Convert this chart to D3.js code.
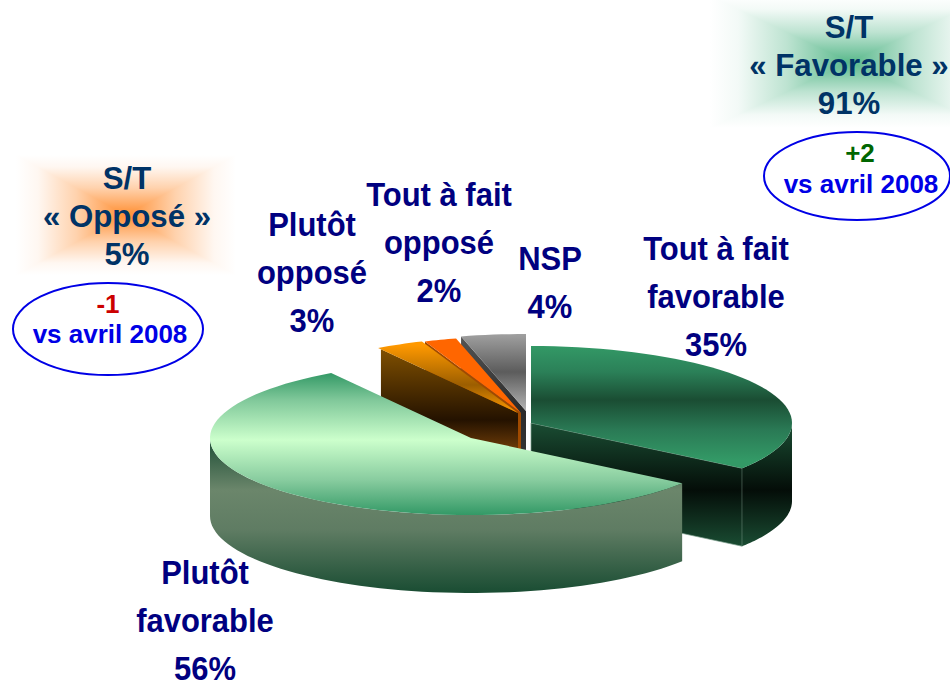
<!DOCTYPE html>
<html>
<head>
<meta charset="utf-8">
<script src="https://cdnjs.cloudflare.com/ajax/libs/d3/7.8.5/d3.min.js"></script>
<style>
html,body{margin:0;padding:0;background:#fff}
svg{display:block}
text{font-family:"Liberation Sans",Arial,sans-serif;font-weight:bold;text-anchor:middle}
</style>
</head>
<body>
<svg id="c" width="950" height="683"></svg>
<script>
// ---- data ----
const categories = ["Tout à fait favorable","Plutôt favorable","Plutôt opposé","Tout à fait opposé","NSP"];
const shares = [35,56,3,2,4];
const categoryLines = [["Tout à fait","favorable"],["Plutôt","favorable"],["Plutôt","opposé"],["Tout à fait","opposé"],["NSP"]];
const summaryTitles = ["« Favorable »","« Opposé »"];
const summaryValues = [91,5];
const summaryDeltas = ["+2","-1"];
const deltaCaption = "vs avril 2008";

// ---- layout ----
const svg = d3.select("#c");
const defs = svg.append("defs");
const rx = 261, ry = 77, depth = 78;
const sx = d3.scaleLinear().domain([-1,1]).range([-rx,rx]);
const sy = d3.scaleLinear().domain([-1,1]).range([-ry,ry]);
const apex = [[531,423],[471,438],[518,413],[521,413],[526,411]];
const sliceStyle = [
 {top:[[346,"#339966"],[372,"#2b8058"],[400,"#1a4d33"],[430,"#2a7a55"],[460,"#339966"]],
  wall:[[423,"#1a4d33"],[490,"#040d08"],[547,"#1a4d33"]]},
 {top:[[373,"#339966"],[400,"#80c89a"],[440,"#ccffcc"],[480,"#88cc9f"],[515,"#339966"]],
  wall:[[440,"#1f4f37"],[490,"#6b866b"],[530,"#5f7c63"],[592,"#1a4d33"]]},
 {top:[[345,"#ff9900"],[385,"#9c5e00"],[413,"#ff9900"]],
  wall:[[350,"#7f4f00"],[420,"#241200"],[450,"#6e3c08"]]},
 {top:[[340,"#ff6600"],[415,"#ff6600"]],
  wall:[[340,"#a04a00"],[450,"#a04a00"]]},
 {top:[[334,"#a0a0a0"],[372,"#5c5c5c"],[411,"#b4b4b4"]],
  wall:[[334,"#555555"],[411,"#2a2a2a"],[450,"#333333"]]}
];
function vGrad(id, stops){
  const g = defs.append("linearGradient").attr("id",id)
    .attr("gradientUnits","userSpaceOnUse").attr("x1",0).attr("x2",0)
    .attr("y1",stops[0][0]).attr("y2",stops[stops.length-1][0]);
  const span = stops[stops.length-1][0]-stops[0][0];
  stops.forEach(s=>g.append("stop").attr("offset",(s[0]-stops[0][0])/span).attr("stop-color",s[1]));
}
sliceStyle.forEach((s,i)=>{vGrad("top"+i,s.top);vGrad("wall"+i,s.wall);});

const arcs = d3.pie().sort(null).value(d=>d)(shares);
const line = d3.line();
const pt = (c,a,h=0)=>[c[0]+sx(Math.sin(a)), c[1]+sy(-Math.cos(a))+h];
const sample = (a0,a1,n)=>d3.range(n+1).map(k=>a0+(a1-a0)*k/n);

function drawSlice(i, parts){
  const d = arcs[i], c = apex[i], n = Math.max(8,Math.round((d.endAngle-d.startAngle)/0.045));
  const angs = sample(d.startAngle,d.endAngle,n);
  const g = svg.append("g");
  const wf = `url(#wall${i})`;
  if(parts.cutStart){
    const e = d3.interpolate(c,pt(c,d.startAngle))(parts.inset||1);
    g.append("path").attr("fill",wf).attr("d",line([c,e,[e[0],e[1]+depth],[c[0],c[1]+depth]])+"Z");
  }
  if(parts.cutEnd){
    g.append("path").attr("fill",wf).attr("stroke","#7fa08f").attr("stroke-width",parts.hair?0.7:0)
      .attr("d",line([c,pt(c,d.endAngle),pt(c,d.endAngle,depth),[c[0],c[1]+depth]])+"Z");
  }
  if(parts.outer){
    const vis = sample(Math.max(d.startAngle,parts.outer[0]),Math.min(d.endAngle,parts.outer[1]),60);
    const pts = vis.map(a=>pt(c,a)).concat(vis.slice().reverse().map(a=>pt(c,a,depth)));
    g.append("path").attr("fill",wf).attr("d",line(pts)+"Z");
  }
  g.append("path").attr("fill",`url(#top${i})`)
   .attr("d",line([c].concat(angs.map(a=>pt(c,a))))+"Z");
}
// back to front
drawSlice(4,{cutStart:true});
drawSlice(3,{cutStart:true});
drawSlice(2,{cutStart:true,inset:0.98});
drawSlice(0,{cutEnd:true,outer:[Math.PI/2,Math.PI],hair:true});
drawSlice(1,{outer:[Math.PI/2,3*Math.PI/2]});

// glow boxes (four-sided rectangular gradient)
function glow(cx,cy,hw,hh,color,id){
  [[0,-1],[0,1],[-1,0],[1,0]].forEach((dir,k)=>{
    const g = defs.append("linearGradient").attr("id",id+k).attr("gradientUnits","userSpaceOnUse")
      .attr("x1",cx).attr("y1",cy).attr("x2",cx+dir[0]*hw).attr("y2",cy+dir[1]*hh);
    g.append("stop").attr("offset",0).attr("stop-color",color);
    g.append("stop").attr("offset",.45).attr("stop-color",d3.interpolateRgb(color,"#fff")(.6));
    g.append("stop").attr("offset",.8).attr("stop-color",d3.interpolateRgb(color,"#fff")(.93));
    g.append("stop").attr("offset",1).attr("stop-color","#fff");
    const corners = dir[0]===0
      ? [[cx-hw,cy+dir[1]*hh],[cx+hw,cy+dir[1]*hh]]
      : [[cx+dir[0]*hw,cy-hh],[cx+dir[0]*hw,cy+hh]];
    svg.append("path").attr("fill",`url(#${id+k})`).attr("shape-rendering","crispEdges")
      .attr("d",line([[cx,cy],corners[0],corners[1]])+"Z");
  });
}
glow(850,62,140,66,"#5ab98c","gl0");
glow(126,215,110,60,"#ff8f33","gl1");

// category labels
const labelPos = [[716,260],[205,584],[312,236],[439,206],[550,270]];
const LH = 47.8;
categories.forEach((name,i)=>{
  const lines = categoryLines[i].concat([shares[i]+"%"]);
  const t = svg.append("text").attr("aria-label",name).attr("fill","#000080").attr("font-size",33.5)
    .attr("transform",`translate(${labelPos[i][0]},0) scale(0.925,1)`);
  lines.forEach((l,k)=>t.append("tspan").attr("x",0).attr("y",labelPos[i][1]+k*LH).text(l));
});

const summaryPos = [{x:849,y:38,ex:857,ey:176,erx:93,ery:44,col:"#006600",dy:162,cy:193,dx:860,cx:861},
                    {x:127,y:189,ex:108,ey:329,erx:95,ery:46,col:"#cc0000",dy:313,cy:343,dx:108,cx:110}];
summaryTitles.forEach((title,i)=>{
  const p = summaryPos[i];
  const t = svg.append("text").attr("fill","#003366").attr("font-size",31.2);
  ["S/T",title,summaryValues[i]+"%"].forEach((l,k)=>t.append("tspan").attr("x",p.x).attr("y",p.y+k*38.2).text(l));
  svg.append("ellipse").attr("cx",p.ex).attr("cy",p.ey).attr("rx",p.erx).attr("ry",p.ery)
    .attr("fill","none").attr("stroke","#0000e6").attr("stroke-width",2);
  svg.append("text").attr("x",p.dx).attr("y",p.dy).attr("fill",p.col).attr("font-size",26).text(summaryDeltas[i]);
  svg.append("text").attr("x",p.cx).attr("y",p.cy).attr("fill","#0000e6").attr("font-size",26).text(deltaCaption);
});
</script>
</body>
</html>
